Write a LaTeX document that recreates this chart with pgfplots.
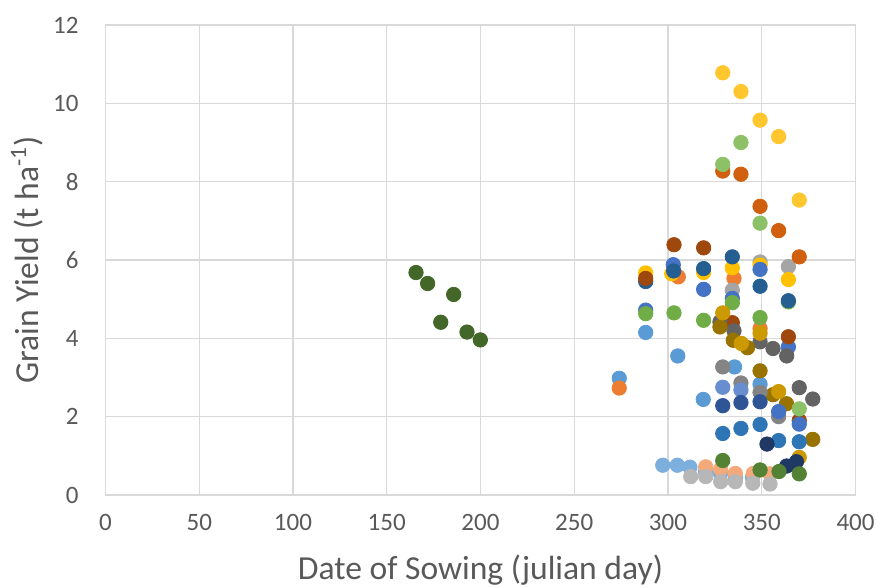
\documentclass[border=0pt]{standalone}
\usepackage{pgfplots}
\pgfplotsset{compat=1.18}
\usepackage{fontspec}
\setmainfont{Carlito}
\definecolor{tick}{HTML}{595959}
\definecolor{gridc}{HTML}{D9D9D9}
\definecolor{c1}{HTML}{5B9BD5}
\definecolor{c2}{HTML}{ED7D31}
\definecolor{c3}{HTML}{A5A5A5}
\definecolor{c4}{HTML}{FFC000}
\definecolor{c5}{HTML}{4472C4}
\definecolor{c6}{HTML}{70AD47}
\definecolor{c7}{HTML}{255E91}
\definecolor{c8}{HTML}{9E480E}
\definecolor{c9}{HTML}{636363}
\definecolor{c10}{HTML}{997300}
\definecolor{c11}{HTML}{CC9A00}
\definecolor{c12}{HTML}{848484}
\definecolor{c13}{HTML}{698ED0}
\definecolor{c14}{HTML}{2F5597}
\definecolor{c15}{HTML}{2E75B6}
\definecolor{c16}{HTML}{203864}
\definecolor{c17}{HTML}{7CAFDD}
\definecolor{c18}{HTML}{F4A97A}
\definecolor{c19}{HTML}{B7B7B7}
\definecolor{c20}{HTML}{548235}
\definecolor{c21}{HTML}{426728}
\definecolor{c22}{HTML}{D0600F}
\definecolor{c23}{HTML}{FFC62E}
\definecolor{c24}{HTML}{8CC168}
\begin{document}
\begin{tikzpicture}
\begin{axis}[
  scale only axis,
  width=375pt, height=235pt,
  xmin=0, xmax=400, ymin=0, ymax=12,
  xtick={0,50,...,400}, ytick={0,2,...,12},
  grid=major,
  major grid style={gridc, line width=0.6pt},
  axis line style={gridc, line width=0.6pt},
  tick style={draw=none},
  tick label style={font=\fontsize{12.5}{14}\selectfont, text=tick},
  /pgf/number format/assume math mode=true,
  xticklabel style={yshift=-6pt},
  yticklabel style={xshift=-10pt},
  xlabel={Date of Sowing (julian day)},
  ylabel={Grain Yield (t ha\textsuperscript{-1})},
  label style={font=\fontsize{16.8}{19}\selectfont, text=tick},
  xlabel style={yshift=-5.5pt},
  ylabel style={yshift=-2pt},
  clip=false,
  every axis plot/.append style={only marks, mark=*, mark size=3.6pt},
]
\addplot[c1, mark options={fill=c1}] coordinates {(274,2.98) (288.1,4.15) (305.2,3.55) (318.8,2.44) (335.5,3.27) (349.1,2.83)};
\addplot[c2, mark options={fill=c2}] coordinates {(274,2.73) (305.5,5.57) (335.2,5.53) (349.1,4.25)};
\addplot[c3, mark options={fill=c3}] coordinates {(334.3,5.23) (349.1,5.95) (364.2,5.83)};
\addplot[c4, mark options={fill=c4}] coordinates {(288.1,5.67) (302,5.65) (319,5.68) (334.3,5.80) (349.1,5.87) (364.2,5.50)};
\addplot[c5, mark options={fill=c5}] coordinates {(288.1,4.72) (302.8,5.88) (319,5.25) (334.3,5.02) (349.1,5.76) (364.2,3.78)};
\addplot[c6, mark options={fill=c6}] coordinates {(288.1,4.63) (303.2,4.65) (319,4.46) (334.3,4.91) (349.1,4.53) (364.2,4.93)};
\addplot[c7, mark options={fill=c7}] coordinates {(288.1,5.45) (303,5.72) (319,5.78) (334.3,6.08) (349.1,5.33) (364.2,4.96)};
\addplot[c8, mark options={fill=c8}] coordinates {(288.1,5.53) (303.2,6.39) (319,6.31) (334.3,4.40) (364.2,4.04) (370,1.9)};
\addplot[c9, mark options={fill=c9}] coordinates {(327.7,4.42) (335.2,4.19) (349.1,3.91) (356,3.74) (363.3,3.55) (370,2.74) (377.2,2.45)};
\addplot[c10, mark options={fill=c10}] coordinates {(327.7,4.29) (334.8,3.95) (342.4,3.76) (349.1,3.17) (356,2.56) (363.2,2.33) (377.2,1.42)};
\addplot[c11, mark options={fill=c11}] coordinates {(329.2,4.65) (339.1,3.87) (349.1,4.13) (359,2.64) (370,0.96)};
\addplot[c12, mark options={fill=c12}] coordinates {(329.2,3.27) (338.9,2.86) (349.1,2.62) (359,2.0)};
\addplot[c13, mark options={fill=c13}] coordinates {(329.2,2.75) (338.9,2.68)};
\addplot[c14, mark options={fill=c14}] coordinates {(329.2,2.28) (338.9,2.36) (349.1,2.38)};
\addplot[c5, mark options={fill=c5}] coordinates {(359,2.13) (370,1.81)};
\addplot[c15, mark options={fill=c15}] coordinates {(329.2,1.57) (338.9,1.70) (349.1,1.80) (359,1.39) (370,1.36)};
\addplot[c16, mark options={fill=c16}] coordinates {(352.8,1.30) (363.3,0.74) (368.5,0.85)};
\addplot[c17, mark options={fill=c17}] coordinates {(297.2,0.76) (305,0.76) (311.7,0.71) (320,0.6) (328,0.55) (336,0.45) (345,0.45)};
\addplot[c18, mark options={fill=c18}] coordinates {(320.1,0.72) (328.1,0.66) (335.9,0.55) (345.5,0.55) (354.4,0.54)};
\addplot[c19, mark options={fill=c19}] coordinates {(312.1,0.47) (320.1,0.47) (328.1,0.34) (335.9,0.34) (345.2,0.30) (354.4,0.28)};
\addplot[c20, mark options={fill=c20}] coordinates {(329.2,0.88) (349.1,0.64) (359.2,0.6) (370,0.54)};
\addplot[c21, mark options={fill=c21}] coordinates {(165.6,5.68) (171.8,5.40) (185.7,5.12) (178.8,4.41) (192.8,4.16) (199.9,3.96)};
\addplot[c22, mark options={fill=c22}] coordinates {(329.2,8.27) (338.9,8.19) (349.1,7.37) (359,6.75) (370,6.08)};
\addplot[c23, mark options={fill=c23}] coordinates {(329.2,10.78) (338.9,10.30) (349.1,9.57) (359,9.15) (370,7.53)};
\addplot[c24, mark options={fill=c24}] coordinates {(329.2,8.44) (338.9,9.0) (349.1,6.94) (370,2.2)};
\end{axis}
\pgfresetboundingbox
\path (current axis.south west) ++(-52.75pt,-46.5pt) rectangle ++(439pt,294pt);
\end{tikzpicture}
\end{document}
